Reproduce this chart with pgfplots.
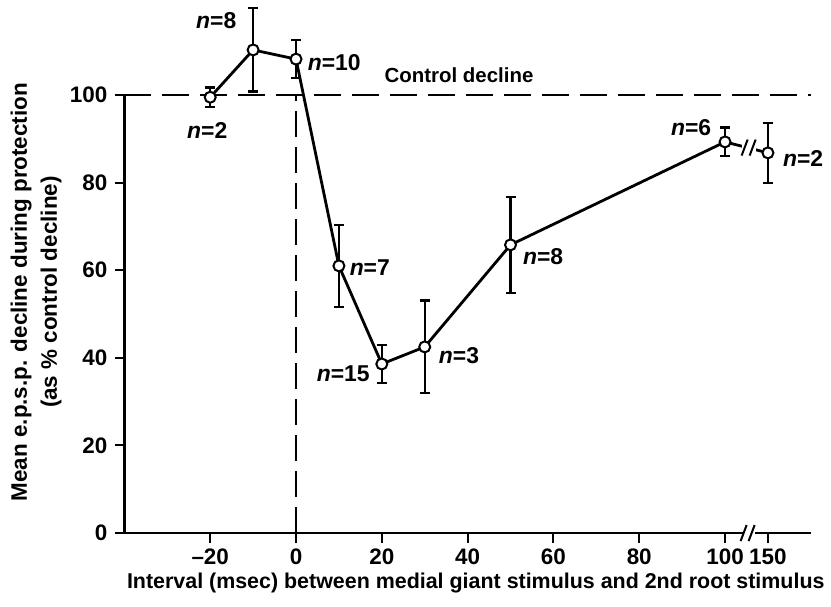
\documentclass[border=0pt]{standalone}
\usepackage{fontspec}
\setmainfont{Liberation Sans}
\usepackage{pgfplots}
\pgfplotsset{compat=1.18}
\begin{document}
\begin{tikzpicture}
\begin{axis}[
  x=4.29bp, y=4.38bp,
  xmin=-40, xmax=120, ymin=0, ymax=100,
  axis x line=bottom, axis y line=left,
  axis line style={-, line width=2.2bp},
  clip=false,
  xtick={-20,0,20,40,60,80,100,110},
  xticklabels={\textendash20,0,20,40,60,80,100,150},
  ytick={0,20,40,60,80,100},
  tick align=outside,
  major tick length=9.5bp,
  tick style={line width=2bp, black},
  /pgf/number format/assume math mode=true,
  ticklabel style={font=\fontsize{22.5}{24}\selectfont\bfseries},
  xticklabel style={yshift=-2.5bp},
  yticklabel style={xshift=-4bp},
]
% bounding box anchors
\coordinate (bl) at (axis cs:-69.0,-16.7);
\coordinate (tr) at (axis cs:124.7,121.7);
% dashed reference lines
\draw[line width=2.3bp, dash pattern=on 27bp off 11bp] (axis cs:-40,100) -- (axis cs:120,100);
\draw[line width=2.3bp, dash pattern=on 26bp off 10bp] (axis cs:0,0) -- (axis cs:0,100);

\addplot[black, line width=2.8bp,
  mark=*, mark size=5.5bp, mark options={fill=white, draw=black, line width=2bp, solid},
  error bars/.cd, y dir=both, y explicit,
  error bar style={line width=2.2bp, black},
  error mark options={rotate=90, mark size=5bp, line width=2.2bp, black}]
  table[x=x, y=y, y error=e] {
x y e
-20 99.5 2.2
-10 110.3 9.5
0 108.2 4.3
10 61.0 9.4
20 38.6 4.4
30 42.5 10.6
50 65.8 11.0
100 89.3 3.3
110 86.8 6.8
};

% break on data line
\fill[white] ([xshift=-7bp,yshift=-5bp]axis cs:105.5,88.0) rectangle ([xshift=7bp,yshift=5bp]axis cs:105.5,88.0);
\draw[line width=2bp] ([xshift=-7bp,yshift=-8bp]axis cs:105.5,88.0) -- ([xshift=-1bp,yshift=8bp]axis cs:105.5,88.0);
\draw[line width=2bp] ([xshift=1bp,yshift=-8bp]axis cs:105.5,88.0) -- ([xshift=7bp,yshift=8bp]axis cs:105.5,88.0);
% break on x axis
\fill[white] ([xshift=-6bp,yshift=-2bp]axis cs:105.5,0) rectangle ([xshift=6bp,yshift=2bp]axis cs:105.5,0);
\draw[line width=2bp] ([xshift=-8bp,yshift=-8bp]axis cs:105.5,0) -- ([xshift=-2bp,yshift=8bp]axis cs:105.5,0);
\draw[line width=2bp] ([xshift=0bp,yshift=-8bp]axis cs:105.5,0) -- ([xshift=6bp,yshift=8bp]axis cs:105.5,0);

% n labels
\begin{scope}[every node/.style={font=\fontsize{23}{24}\selectfont\bfseries, inner sep=0pt}]
\node at (axis cs:-18.6,117.1) {\textit{n}=8};
\node at (axis cs:-20.7,92.0) {\textit{n}=2};
\node at (axis cs:8.9,107.5) {\textit{n}=10};
\node at (axis cs:17.2,60.7) {\textit{n}=7};
\node at (axis cs:11.0,36.3) {\textit{n}=15};
\node at (axis cs:38.0,40.4) {\textit{n}=3};
\node at (axis cs:57.6,63.0) {\textit{n}=8};
\node at (axis cs:92.1,92.5) {\textit{n}=6};
\node at (axis cs:118.2,85.4) {\textit{n}=2};
\node[font=\fontsize{20.5}{22}\selectfont\bfseries] at (axis cs:38.0,104.6) {Control decline};
\node[font=\fontsize{21.5}{22}\selectfont\bfseries] at (axis cs:41.9,-11.4) {Interval (msec) between medial giant stimulus and 2nd root stimulus};
\node[rotate=90, align=center, font=\fontsize{22.5}{30}\selectfont\bfseries] at (axis cs:-60.6,55) {Mean e.p.s.p. decline during protection\\(as \% control decline)};
\end{scope}
\end{axis}
\pgfresetboundingbox
\useasboundingbox (bl) rectangle (tr);
\end{tikzpicture}
\end{document}
